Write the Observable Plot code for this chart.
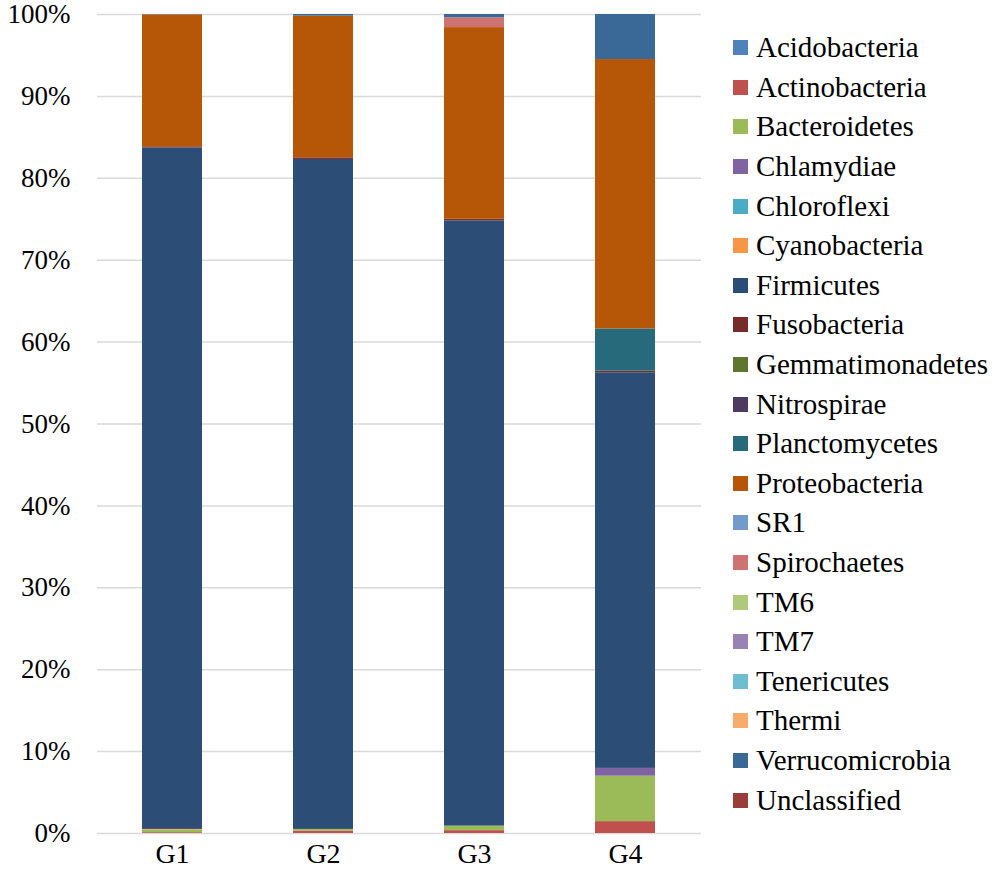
<!DOCTYPE html>
<html>
<head>
<meta charset="utf-8">
<script src="https://cdn.jsdelivr.net/npm/d3@7"></script>
<script src="https://cdn.jsdelivr.net/npm/@observablehq/plot@0.6"></script>
<style>
  body { margin: 0; background: #fff; }
  #wrap { position: relative; width: 1000px; height: 882px; }
  #legend { position: absolute; left: 733px; top: 28px; font-family: "Liberation Serif", Tinos, "DejaVu Serif", serif; font-size: 29px; color: #000; }
  .row { height: 39.6px; display: flex; align-items: center; white-space: nowrap; }
  .sw { width: 15px; height: 15px; margin-right: 8px; flex: none; }
</style>
</head>
<body>
<div id="wrap"><div id="legend"></div></div>
<script>
const groups = ["G1", "G2", "G3", "G4"];
const phyla = ["Acidobacteria","Actinobacteria","Bacteroidetes","Chlamydiae","Chloroflexi","Cyanobacteria","Firmicutes","Fusobacteria","Gemmatimonadetes","Nitrospirae","Planctomycetes","Proteobacteria","SR1","Spirochaetes","TM6","TM7","Tenericutes","Thermi","Verrucomicrobia","Unclassified"];
const colors = ["#4F81BD","#C0504D","#9BBB59","#8064A2","#4BACC6","#F79646","#2C4D75","#772C2A","#5F7530","#4D3B62","#276A7C","#B65708","#729ACA","#CD7371","#AFC97A","#9983B5","#6FBDD1","#F9AB6B","#3A6997","#9A3D3A"];
// percent abundance per phylum (same order as phyla)
const G1 = [0, 0.1, 0.3, 0, 0, 0.1, 83.2, 0.15, 0, 0, 0, 16.1, 0, 0.02, 0, 0, 0, 0, 0.03, 0];
const G2 = [0, 0.3, 0.2, 0, 0, 0, 81.8, 0.2, 0, 0, 0, 17.3, 0, 0, 0, 0, 0, 0, 0.2, 0];
const G3 = [0, 0.35, 0.55, 0, 0, 0, 73.9, 0.2, 0, 0, 0, 23.4, 0, 1.2, 0, 0, 0, 0, 0.4, 0];
const G4 = [0, 1.45, 5.55, 0.95, 0, 0, 48.3, 0.2, 0, 0, 5.15, 32.9, 0, 0, 0, 0, 0, 0, 5.5, 0];
const yTicks = [0, 10, 20, 30, 40, 50, 60, 70, 80, 90, 100];

const series = {G1, G2, G3, G4};
const rows = [];
groups.forEach(g => phyla.forEach((p, i) => rows.push({group: g, phylum: p, value: series[g][i]})));

const chart = Plot.plot({
  width: 1000,
  height: 882,
  marginLeft: 97,
  marginRight: 299,
  marginTop: 14,
  marginBottom: 49,
  style: {fontFamily: "'Liberation Serif', Tinos, 'DejaVu Serif', serif", fontSize: "28px", color: "#000", background: "#fff", overflow: "visible"},
  x: {domain: groups, paddingInner: 0.6, paddingOuter: 0.3, label: null},
  y: {domain: [0, 100], label: null},
  color: {domain: phyla, range: colors},
  marks: [
    Plot.ruleY(yTicks, {stroke: "#D9D9D9", strokeWidth: 1.5}),
    Plot.barY(rows, {x: "group", y: "value", fill: "phylum", order: phyla}),
    Plot.axisY({ticks: yTicks, tickSize: 0, tickPadding: 27, tickFormat: d => d + "%", fill: "#000", label: null, fontSize: 27}),
    Plot.axisX({tickSize: 0, tickPadding: 10, fill: "#000", label: null})
  ]
});
const wrap = document.getElementById("wrap");
wrap.insertBefore(chart, wrap.firstChild);

const legend = document.getElementById("legend");
phyla.forEach((p, i) => {
  const r = document.createElement("div");
  r.className = "row";
  r.innerHTML = `<span class="sw" style="background:${colors[i]}"></span><span>${p}</span>`;
  legend.appendChild(r);
});
</script>
</body>
</html>
